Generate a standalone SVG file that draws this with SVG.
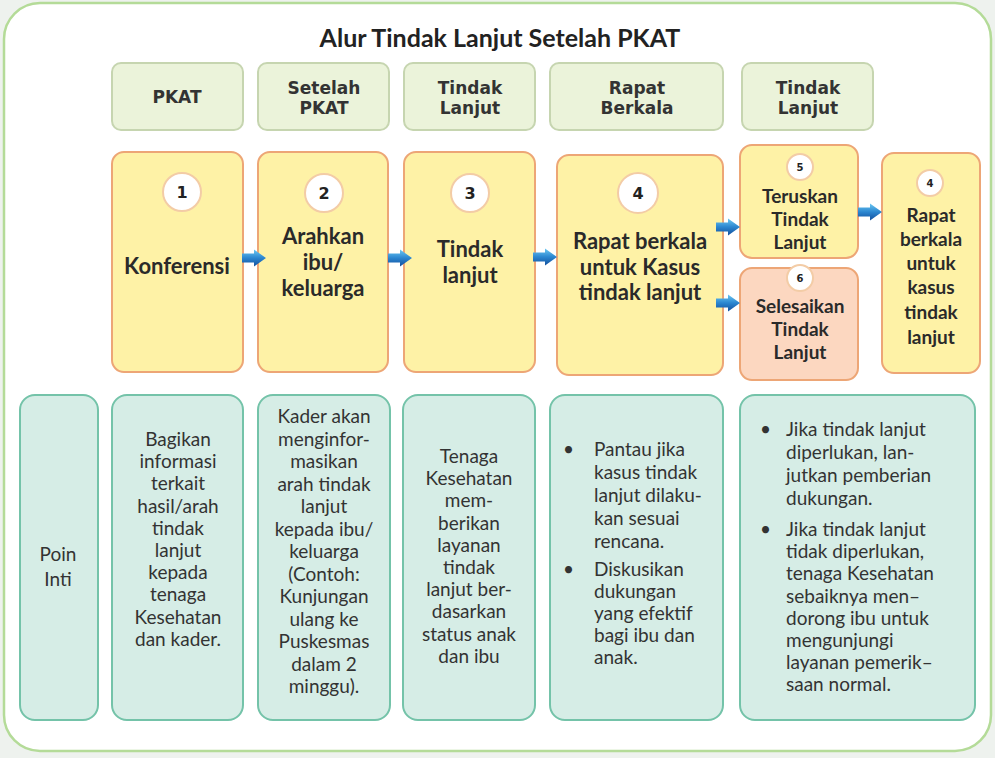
<svg xmlns="http://www.w3.org/2000/svg" width="995" height="758" viewBox="0 0 995 758">
<defs>
<linearGradient id="ag" x1="0" y1="0" x2="0" y2="1">
<stop offset="0" stop-color="#6cc8f2"/>
<stop offset="0.5" stop-color="#2b86d0"/>
<stop offset="1" stop-color="#134f9c"/>
</linearGradient>
<path id="arr" d="M0,-4.5 L12,-4.5 L12,-8.5 L24,0 L12,8.5 L12,4.5 L0,4.5 Z" fill="url(#ag)"/>
<style>
.hdr{fill:#ebf3da;stroke:#c6d5b0;stroke-width:2}
.yel{fill:#fef2a6;stroke:#eda676;stroke-width:2}
.sal{fill:#fcd7c0;stroke:#eda676;stroke-width:2}
.tea{fill:#d6ede6;stroke:#74c3a9;stroke-width:2}
.circ{fill:#ffffff;stroke:#f3cca6;stroke-width:2}
.ht{font-family:"DejaVu Sans",sans-serif;font-weight:bold;font-size:17px;fill:#333;text-anchor:middle}
.bt{font-family:Lato,"Open Sans",sans-serif;font-weight:bold;font-size:22px;fill:#2a2a2a;text-anchor:middle}
.st{font-family:Lato,"Open Sans",sans-serif;font-weight:bold;font-size:19px;fill:#2a2a2a;text-anchor:middle}
.num{font-family:"DejaVu Sans",sans-serif;font-weight:bold;font-size:16px;fill:#222;text-anchor:middle}
.nums{font-family:"DejaVu Sans",sans-serif;font-weight:bold;font-size:10px;fill:#222;text-anchor:middle}
.tx{font-family:Lato,"Open Sans",sans-serif;font-size:19px;fill:#333;text-anchor:middle}
.tl{font-family:Lato,"Open Sans",sans-serif;font-size:19px;fill:#333}
</style>
</defs>
<rect width="995" height="758" fill="#eef2ee"/>
<rect x="4" y="3" width="987" height="748" rx="36" fill="#ffffff" stroke="#b4db98" stroke-width="2.5"/>
<text x="500" y="47" font-family="Lato,'Open Sans',sans-serif" font-weight="bold" font-size="25" fill="#222" text-anchor="middle">Alur Tindak Lanjut Setelah PKAT</text>

<g id="h1"><rect class="hdr" x="112" y="63" width="131" height="67" rx="9"/><text class="ht" x="177" y="103">PKAT</text></g>
<g id="h2"><rect class="hdr" x="258" y="63" width="131" height="67" rx="9"/><text class="ht" x="324" y="94">Setelah<tspan x="324" dy="20">PKAT</tspan></text></g>
<g id="h3"><rect class="hdr" x="404" y="63" width="131" height="67" rx="9"/><text class="ht" x="470" y="94">Tindak<tspan x="470" dy="20">Lanjut</tspan></text></g>
<g id="h4"><rect class="hdr" x="550" y="63" width="173" height="67" rx="9"/><text class="ht" x="637" y="94">Rapat<tspan x="637" dy="20">Berkala</tspan></text></g>
<g id="h5"><rect class="hdr" x="742" y="63" width="131" height="67" rx="9"/><text class="ht" x="808" y="94">Tindak<tspan x="808" dy="20">Lanjut</tspan></text></g>

<g id="n1"><rect class="yel" x="112" y="152" width="131" height="220" rx="12"/><circle class="circ" cx="182" cy="192" r="19"/><text class="num" x="182" y="198">1</text><text class="bt" x="177" y="274">Konferensi</text></g>
<g id="n2"><rect class="yel" x="258" y="152" width="130" height="220" rx="12"/><circle class="circ" cx="324" cy="193" r="19"/><text class="num" x="324" y="199">2</text><text class="bt" x="323" y="244">Arahkan<tspan x="323" dy="26">ibu/</tspan><tspan x="323" dy="26">keluarga</tspan></text></g>
<g id="n3"><rect class="yel" x="404" y="152" width="131" height="220" rx="12"/><circle class="circ" cx="470" cy="193" r="19"/><text class="num" x="470" y="199">3</text><text class="bt" x="470" y="257">Tindak<tspan x="470" dy="26">lanjut</tspan></text></g>
<g id="n4"><rect class="yel" x="557" y="155" width="166" height="220" rx="12"/><circle class="circ" cx="638" cy="193" r="20"/><text class="num" x="638" y="199">4</text><text class="bt" x="640" y="249" font-size="21">Rapat berkala<tspan x="640" dy="25.5">untuk Kasus</tspan><tspan x="640" dy="25.5">tindak lanjut</tspan></text></g>
<g id="n5"><rect class="yel" x="740" y="145" width="118" height="113" rx="12"/><circle class="circ" cx="800" cy="167" r="13"/><text class="nums" x="800" y="171">5</text><text class="st" x="800" y="203">Teruskan<tspan x="800" dy="22.8">Tindak</tspan><tspan x="800" dy="22.8">Lanjut</tspan></text></g>
<g id="n6"><rect class="sal" x="740" y="268" width="118" height="112" rx="12"/><circle class="circ" cx="800" cy="278" r="13"/><text class="nums" x="800" y="282">6</text><text class="st" x="800" y="313">Selesaikan<tspan x="800" dy="22.8">Tindak</tspan><tspan x="800" dy="22.8">Lanjut</tspan></text></g>
<g id="n7"><rect class="yel" x="882" y="153" width="98" height="220" rx="12"/><circle class="circ" cx="930" cy="183" r="13"/><text class="nums" x="930" y="187">4</text><text class="st" x="931" y="222" font-size="20">Rapat<tspan x="931" dy="24">berkala</tspan><tspan x="931" dy="24">untuk</tspan><tspan x="931" dy="24">kasus</tspan><tspan x="931" dy="25">tindak</tspan><tspan x="931" dy="25">lanjut</tspan></text></g>

<g id="connectors">
<use href="#arr" x="242" y="258"/>
<use href="#arr" x="388" y="258"/>
<use href="#arr" x="533" y="257"/>
<use href="#arr" x="716" y="227"/>
<use href="#arr" x="716" y="303"/>
<use href="#arr" x="858" y="212"/>
</g>

<g id="p0"><rect class="tea" x="20" y="395" width="78" height="325" rx="15"/><text class="tx" x="58" y="561">Poin<tspan x="58" dy="25">Inti</tspan></text></g>
<g id="p1"><rect class="tea" x="112" y="395" width="131" height="325" rx="15"/><text class="tx" x="178" y="446">Bagikan<tspan x="178" dy="22.2">informasi</tspan><tspan x="178" dy="22.2">terkait</tspan><tspan x="178" dy="22.2">hasil/arah</tspan><tspan x="178" dy="22.2">tindak</tspan><tspan x="178" dy="22.2">lanjut</tspan><tspan x="178" dy="22.2">kepada</tspan><tspan x="178" dy="22.2">tenaga</tspan><tspan x="178" dy="22.2">Kesehatan</tspan><tspan x="178" dy="22.2">dan kader.</tspan></text></g>
<g id="p2"><rect class="tea" x="258" y="395" width="132" height="325" rx="15"/><text class="tx" x="324" y="423">Kader akan<tspan x="324" dy="22.5">menginfor-</tspan><tspan x="324" dy="22.5">masikan</tspan><tspan x="324" dy="22.5">arah tindak</tspan><tspan x="324" dy="22.5">lanjut</tspan><tspan x="324" dy="22.5">kepada ibu/</tspan><tspan x="324" dy="22.5">keluarga</tspan><tspan x="324" dy="22.5">(Contoh:</tspan><tspan x="324" dy="22.5">Kunjungan</tspan><tspan x="324" dy="22.5">ulang ke</tspan><tspan x="324" dy="22.5">Puskesmas</tspan><tspan x="324" dy="22.5">dalam 2</tspan><tspan x="324" dy="22.5">minggu).</tspan></text></g>
<g id="p3"><rect class="tea" x="403" y="395" width="132" height="325" rx="15"/><text class="tx" x="469" y="463">Tenaga<tspan x="469" dy="22.2">Kesehatan</tspan><tspan x="469" dy="22.2">mem-</tspan><tspan x="469" dy="22.2">berikan</tspan><tspan x="469" dy="22.2">layanan</tspan><tspan x="469" dy="22.2">tindak</tspan><tspan x="469" dy="22.2">lanjut ber-</tspan><tspan x="469" dy="22.2">dasarkan</tspan><tspan x="469" dy="22.2">status anak</tspan><tspan x="469" dy="22.2">dan ibu</tspan></text></g>
<g id="p4"><rect class="tea" x="550" y="395" width="173" height="325" rx="15"/>
<text class="tl" x="563" y="456">•</text>
<text class="tl" x="594" y="456">Pantau jika<tspan x="594" dy="23">kasus tindak</tspan><tspan x="594" dy="23">lanjut dilaku-</tspan><tspan x="594" dy="23">kan sesuai</tspan><tspan x="594" dy="23">rencana.</tspan></text>
<text class="tl" x="563" y="576">•</text>
<text class="tl" x="594" y="576">Diskusikan<tspan x="594" dy="22">dukungan</tspan><tspan x="594" dy="22">yang efektif</tspan><tspan x="594" dy="22">bagi ibu dan</tspan><tspan x="594" dy="22">anak.</tspan></text></g>
<g id="p5"><rect class="tea" x="740" y="395" width="235" height="325" rx="15"/>
<text class="tl" x="760" y="436">•</text>
<text class="tl" x="786" y="436">Jika tindak lanjut<tspan x="786" dy="23">diperlukan, lan-</tspan><tspan x="786" dy="23">jutkan pemberian</tspan><tspan x="786" dy="23">dukungan.</tspan></text>
<text class="tl" x="760" y="536">•</text>
<text class="tl" x="786" y="536">Jika tindak lanjut<tspan x="786" dy="22.2">tidak diperlukan,</tspan><tspan x="786" dy="22.2">tenaga Kesehatan</tspan><tspan x="786" dy="22.2">sebaiknya men–</tspan><tspan x="786" dy="22.2">dorong ibu untuk</tspan><tspan x="786" dy="22.2">mengunjungi</tspan><tspan x="786" dy="22.2">layanan pemerik–</tspan><tspan x="786" dy="22.2">saan normal.</tspan></text></g>
</svg>
